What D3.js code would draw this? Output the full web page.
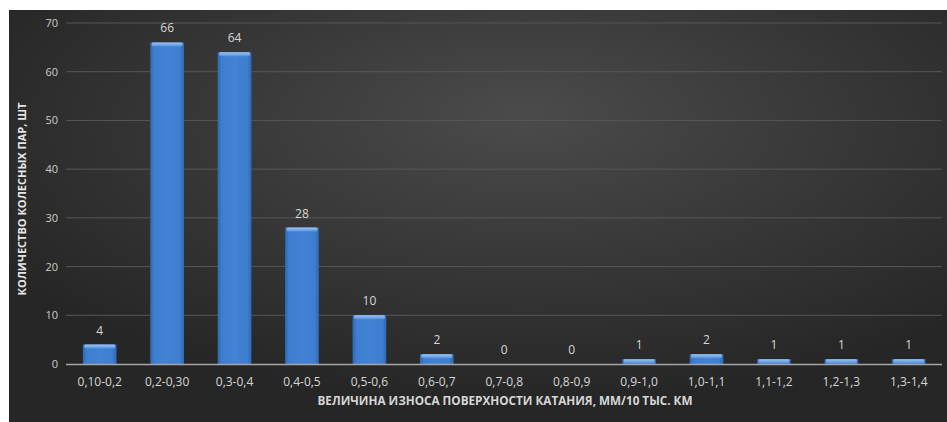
<!DOCTYPE html>
<html><head><meta charset="utf-8">
<script src="https://cdn.jsdelivr.net/npm/d3@7"></script>
<style>
html,body{margin:0;padding:0;background:#fff;}
svg{display:block;}
text{font-family:"Open Sans","Liberation Sans",sans-serif;}
</style></head>
<body>
<svg id="chart" width="947" height="422"></svg>
<script>
const categories = ["0,10-0,2","0,2-0,30","0,3-0,4","0,4-0,5","0,5-0,6","0,6-0,7","0,7-0,8","0,8-0,9","0,9-1,0","1,0-1,1","1,1-1,2","1,2-1,3","1,3-1,4"];
const values = [4,66,64,28,10,2,0,0,1,2,1,1,1];
const yTicks = [0,10,20,30,40,50,60,70];
const xTitle = "ВЕЛИЧИНА ИЗНОСА ПОВЕРХНОСТИ КАТАНИЯ, ММ/10 ТЫС. КМ";
const yTitle = "КОЛИЧЕСТВО КОЛЕСНЫХ ПАР, ШТ";

const svg = d3.select("#chart");
const W = 947, H = 422;
const defs = svg.append("defs");

const bg = defs.append("radialGradient").attr("id","bg")
  .attr("cx","0.55").attr("cy","0.3").attr("r","0.65").attr("fx","0.55").attr("fy","0.25");
bg.append("stop").attr("offset","0%").attr("stop-color","#4b4b4b");
bg.append("stop").attr("offset","100%").attr("stop-color","#262626");

const barG = defs.append("linearGradient").attr("id","barg").attr("x1","0").attr("x2","1").attr("y1","0").attr("y2","0");
barG.append("stop").attr("offset","0%").attr("stop-color","#3068b3");
barG.append("stop").attr("offset","12%").attr("stop-color","#3e7dcf");
barG.append("stop").attr("offset","50%").attr("stop-color","#4283d6");
barG.append("stop").attr("offset","88%").attr("stop-color","#3e7dcf");
barG.append("stop").attr("offset","100%").attr("stop-color","#3068b3");

const topG = defs.append("linearGradient").attr("id","topg").attr("x1","0").attr("x2","0").attr("y1","0").attr("y2","1");
topG.append("stop").attr("offset","0%").attr("stop-color","#9cc6f6");
topG.append("stop").attr("offset","100%").attr("stop-color","#5590dc");

svg.append("rect").attr("x",9).attr("y",10).attr("width",W-9).attr("height",H-10).attr("fill","url(#bg)");

const x = d3.scaleBand().domain(categories).range([66, 942.5]).paddingInner(0.5).paddingOuter(0.25);
const y = d3.scaleLinear().domain([0,70]).range([364, 23]);

// gridlines
svg.append("g").selectAll("line").data(yTicks.filter(d=>d>0)).join("line")
  .attr("x1",66).attr("x2",942).attr("y1",d=>y(d)).attr("y2",d=>y(d))
  .attr("stroke","#575757").attr("stroke-width",1);

// y tick labels
const yAxis = d3.axisLeft(y).tickValues(yTicks).tickSize(0).tickPadding(8);
const ya = svg.append("g").attr("transform","translate(66,0)").call(yAxis);
ya.select(".domain").remove();
ya.selectAll("text").attr("fill","#cccccc").style("font-size","11px");

// bars
const bars = svg.append("g").selectAll("g").data(values.map((v,i)=>({c:categories[i],v}))).join("g");
bars.filter(d=>d.v>0).append("rect")
  .attr("x",d=>x(d.c)).attr("width",x.bandwidth())
  .attr("y",d=>y(d.v)).attr("height",d=>y(0)-y(d.v))
  .attr("fill","url(#barg)");
bars.filter(d=>d.v>0).append("rect")
  .attr("x",d=>x(d.c)+1.5).attr("width",x.bandwidth()-3)
  .attr("y",d=>y(d.v)).attr("height",d=>Math.min(4, y(0)-y(d.v)))
  .attr("rx",1)
  .attr("fill","url(#topg)");

// value labels
bars.append("text")
  .attr("x",d=>x(d.c)+x.bandwidth()/2).attr("y",d=>y(d.v)-10)
  .attr("text-anchor","middle").attr("fill","#d6d6d6").style("font-size","12px")
  .text(d=>d.v);

// x axis
const xAxis = d3.axisBottom(x).tickSize(0).tickPadding(13);
const xa = svg.append("g").attr("transform","translate(0,364)").call(xAxis);
xa.select(".domain").attr("d","M66,0.5H942").attr("stroke","#a6a6a6").attr("stroke-width",1.5);
xa.selectAll("text").attr("fill","#d6d6d6").style("font-size","12px");

// titles
svg.append("text").attr("x",505).attr("y",405).attr("text-anchor","middle")
  .attr("fill","#d6d6d6").style("font-size","11.5px").style("font-weight","bold")
  .attr("textLength",375).attr("lengthAdjust","spacingAndGlyphs").text(xTitle);
svg.append("text").attr("transform","translate(26,199) rotate(-90)").attr("text-anchor","middle")
  .attr("fill","#e6e6e6").style("font-size","11px").style("font-weight","bold").text(yTitle);
</script>
</body></html>
